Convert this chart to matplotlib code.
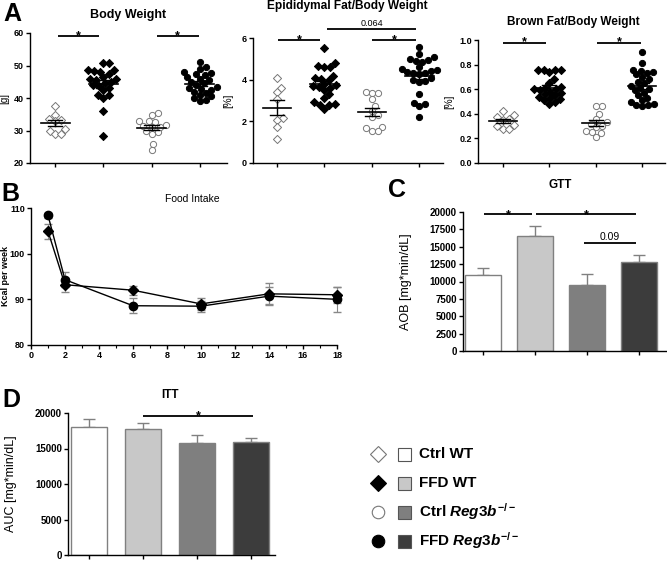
import numpy as np
import matplotlib.pyplot as plt
from matplotlib.patches import Rectangle

plt.rcParams["font.family"] = ["Liberation Sans", "DejaVu Sans"]
plt.rcParams["mathtext.fontset"] = "custom"
plt.rcParams["mathtext.rm"] = "Liberation Sans:bold"
plt.rcParams["mathtext.it"] = "Liberation Sans:bold:italic"

W, H = 667, 561

groups = ["Ctrl WT", "FFD WT", "Ctrl Reg3b-/-", "FFD Reg3b-/-"]

# panel A, individual animals
bw_ctrl_wt = [37.6, 34.7, 33.5, 33.3, 32.8, 30.4, 30.0, 29.0, 29.0]
bw_ffd_wt = [50.8, 50.8, 48.5, 48.5, 48.3, 47.5, 46.5, 46.0, 45.8, 45.5, 45.0,
             44.5, 44.0, 43.8, 43.0, 42.5, 41.0, 40.8, 40.0, 36.0, 28.2, 48.0]
bw_ctrl_ko = [35.3, 34.8, 33.0, 32.8, 32.5, 31.8, 31.5, 31.0, 30.0, 29.5, 29.0,
              25.8, 24.0, 31.2]
bw_ffd_ko = [51.2, 49.5, 49.0, 48.0, 47.8, 47.5, 47.0, 46.0, 45.5, 45.0, 44.5,
             44.0, 43.5, 43.0, 42.5, 42.0, 41.5, 41.0, 40.5, 40.0, 39.5, 39.0,
             46.5, 42.8]

epi_ctrl_wt = [4.1, 3.6, 3.4, 3.05, 2.15, 2.05, 1.75, 1.15]
epi_ffd_wt = [5.5, 4.8, 4.65, 4.6, 4.6, 4.2, 4.1, 4.05, 4.0, 3.8, 3.7, 3.65,
              3.6, 3.5, 3.3, 3.1, 2.95, 2.85, 2.8, 2.8, 2.6, 3.75]
epi_ctrl_ko = [3.4, 3.35, 3.35, 3.05, 2.75, 2.5, 2.3, 2.2, 1.75, 1.7, 1.55, 1.55]
epi_ffd_ko = [5.55, 5.25, 5.1, 5.0, 4.95, 4.9, 4.85, 4.6, 4.5, 4.45, 4.4, 4.35,
              4.3, 4.3, 4.25, 4.1, 4.0, 3.95, 3.9, 3.3, 2.9, 2.85, 2.75, 2.2]

bat_ctrl_wt = [0.42, 0.39, 0.37, 0.36, 0.35, 0.31, 0.30, 0.28, 0.28]
bat_ffd_wt = [0.76, 0.76, 0.76, 0.74, 0.76, 0.68, 0.65, 0.62, 0.61, 0.60, 0.60,
              0.59, 0.58, 0.57, 0.56, 0.55, 0.54, 0.53, 0.52, 0.51, 0.50, 0.48]
bat_ctrl_ko = [0.46, 0.46, 0.40, 0.36, 0.33, 0.32, 0.30, 0.29, 0.26, 0.25, 0.24, 0.21]
bat_ffd_ko = [0.90, 0.81, 0.76, 0.75, 0.74, 0.73, 0.72, 0.70, 0.68, 0.66, 0.65,
              0.63, 0.61, 0.60, 0.59, 0.57, 0.55, 0.53, 0.51, 0.50, 0.48, 0.47,
              0.47, 0.46]

# panel B, food intake
weeks = [1, 2, 6, 10, 14, 18]
fi_ffd_wt = [104.9, 93.2, 92.0, 89.0, 91.2, 91.0]
fi_ffd_wt_err = [1.6, 1.5, 1.0, 1.3, 2.3, 1.8]
fi_ffd_ko = [108.4, 94.3, 88.6, 88.5, 90.7, 90.0]
fi_ffd_ko_err = [0.5, 1.7, 1.7, 1.2, 1.9, 2.7]

# panels C / D, bars
gtt = [10900, 16600, 9550, 12800]
gtt_err = [1050, 1350, 1500, 1050]
itt = [18000, 17800, 15800, 15950]
itt_err = [1150, 750, 1150, 560]

bar_colors = ["white", "#c8c8c8", "#7f7f7f", "#3c3c3c"]


def px(left, top, right, bottom):
    return [left / W, 1 - bottom / H, (right - left) / W, (bottom - top) / H]


def style(ax, fs=6.5):
    for s in ["top", "right"]:
        ax.spines[s].set_visible(False)
    for s in ["left", "bottom"]:
        ax.spines[s].set_linewidth(1.0)
    ax.tick_params(labelsize=fs, width=1.0, length=3, pad=1.5)
    for lab in ax.get_yticklabels() + ax.get_xticklabels():
        lab.set_fontweight("bold")


def swarm(vals, pos, ax, diam):
    # simple deterministic beeswarm, done in pixel space
    bb = ax.get_position()
    x0, x1 = ax.get_xlim()
    y0, y1 = ax.get_ylim()
    sx = bb.width * W / (x1 - x0)
    sy = bb.height * H / (y1 - y0)
    order = np.argsort(vals)
    placed = []
    xs = np.zeros(len(vals))
    for i in order:
        yp = vals[i] * sy
        best = 0.0
        for k in range(200):
            cand = (k + 1) // 2 * 0.5 * (1 if k % 2 else -1)
            if all((cand - px_) ** 2 + (yp - py_) ** 2 >= diam ** 2 for px_, py_ in placed):
                best = cand
                break
        placed.append((best, yp))
        xs[i] = pos + best / sx
    return xs


def sig(ax, x0, x1, y, label, fs=9, dy=0.0):
    ax.plot([x0, x1], [y, y], color="black", lw=1.3, clip_on=False, solid_capstyle="butt")
    ax.text((x0 + x1) / 2, y + dy, label, ha="center", va="bottom",
            fontsize=fs, fontweight="bold" if label == "*" else "normal")


fig = plt.figure(figsize=(W / 100, H / 100), dpi=100)

panelA = [
    ("Body Weight", "[g]", (20, 60), [20, 30, 40, 50, 60], px(30, 33, 227, 163),
     [bw_ctrl_wt, bw_ffd_wt, bw_ctrl_ko, bw_ffd_ko], (0.48, 4.56), (128, 15), -0.105, 9),
    ("Epididymal Fat/Body Weight", "[%]", (0, 6), [0, 2, 4, 6], px(253, 38, 443, 163),
     [epi_ctrl_wt, epi_ffd_wt, epi_ctrl_ko, epi_ffd_ko], (0.5, 4.5), (347, 6), -0.105, 8.6),
    ("Brown Fat/Body Weight", "[%]", (0, 1), [0, 0.2, 0.4, 0.6, 0.8, 1.0], px(478, 40, 665, 163),
     [bat_ctrl_wt, bat_ffd_wt, bat_ctrl_ko, bat_ffd_ko], (0.46, 4.5), (573, 22), -0.125, 8.5),
]

markers = [("D", "white", "#777777"), ("D", "black", "black"),
           ("o", "white", "#777777"), ("o", "black", "black")]

axesA = []
for title, ylab, ylim, yt, rect, data, xlim, tpos, lx, tfs in panelA:
    ax = fig.add_axes(rect)
    ax.set_ylim(*ylim)
    ax.set_xlim(*xlim)
    ax.set_yticks(yt)
    if ylim[1] == 1:
        ax.set_yticklabels([f"{v:.1f}" for v in yt])
    ax.set_xticks([1, 2, 3, 4])
    ax.set_xticklabels([])
    style(ax)
    ax.set_ylabel(ylab, fontsize=7)
    ax.yaxis.set_label_coords(lx, 0.5)
    for i, vals in enumerate(data):
        vals = np.array(vals)
        mk, fc, ec = markers[i]
        xs = swarm(vals, i + 1, ax, 6.0)
        ax.scatter(xs, vals, marker=mk, s=17 if mk == "D" else 20, facecolor=fc,
                   edgecolor=ec, linewidth=0.7, zorder=3, clip_on=False)
        m = vals.mean()
        se = vals.std(ddof=1) / np.sqrt(len(vals))
        ax.plot([i + 0.7, i + 1.3], [m, m], color="black", lw=1.2, zorder=4)
        ax.plot([i + 1, i + 1], [m - se, m + se], color="black", lw=1.0, zorder=4)
        for e in (m - se, m + se):
            ax.plot([i + 0.85, i + 1.15], [e, e], color="black", lw=1.0, zorder=4)
    fig.text(tpos[0] / W, 1 - tpos[1] / H, title, ha="center", va="center",
             fontsize=tfs, fontweight="bold")
    axesA.append(ax)

sig(axesA[0], 1.07, 1.91, 59.2, "*", dy=-2.0)
sig(axesA[0], 3.1, 3.97, 59.2, "*", dy=-2.0)
sig(axesA[1], 1.02, 1.92, 5.92, "*", dy=-0.31)
sig(axesA[1], 3.01, 3.94, 5.92, "*", dy=-0.31)
sig(axesA[1], 2.05, 3.94, 6.45, "0.064", fs=6.5, dy=0.02)
sig(axesA[2], 1.0, 1.92, 0.978, "*", dy=-0.046)
sig(axesA[2], 3.03, 3.98, 0.978, "*", dy=-0.046)

# panel B
axB = fig.add_axes(px(31, 208, 337, 345))
axB.set_xlim(0, 18)
axB.set_ylim(80, 110)
axB.set_xticks(range(0, 19, 2))
axB.set_xticks(range(1, 19, 2), minor=True)
axB.set_yticks([80, 90, 100, 110])
style(axB)
axB.tick_params(which="minor", length=2, width=0.8)
axB.errorbar(weeks, fi_ffd_wt, yerr=fi_ffd_wt_err, color="black", lw=1.0,
             marker="D", ms=5.5, ecolor="#888888", elinewidth=0.8, capsize=3,
             clip_on=False, zorder=3)
axB.errorbar(weeks, fi_ffd_ko, yerr=fi_ffd_ko_err, color="black", lw=1.0,
             marker="o", ms=6, ecolor="#888888", elinewidth=0.8, capsize=3,
             clip_on=False, zorder=3)
axB.set_ylabel("Kcal per week", fontsize=6.5, fontweight="bold")
axB.yaxis.set_label_coords(-0.07, 0.5)
fig.text(192 / W, 1 - 199 / H, "Food Intake", ha="center", va="center", fontsize=7.5)


def bars(ax, vals, errs, width):
    x = np.arange(1, 5)
    ax.bar(x, vals, width=width, color=bar_colors, edgecolor="#808080", lw=1.0, zorder=2)
    ax.errorbar(x, vals, yerr=[np.zeros(4), errs], fmt="none", ecolor="#808080",
                elinewidth=1.0, capsize=4, capthick=1.0, zorder=1)
    ax.set_xticks(x)
    ax.set_xticklabels([])


# panel C
axC = fig.add_axes(px(463, 212, 666, 351))
axC.set_xlim(0.62, 4.52)
axC.set_ylim(0, 20000)
axC.set_yticks(range(0, 20001, 2500))
bars(axC, gtt, gtt_err, 0.69)
style(axC, fs=7)
axC.set_ylabel("AOB [mg*min/dL]", fontsize=9)
axC.yaxis.set_label_coords(-0.25, 0.5)
sig(axC, 1.02, 1.95, 19760, "*", dy=-1070)
sig(axC, 2.03, 3.94, 19760, "*", dy=-1070)
sig(axC, 2.94, 3.94, 15550, "0.09", fs=7.5, dy=200)
fig.text(560 / W, 1 - 185 / H, "GTT", ha="center", va="center", fontsize=8.5, fontweight="bold")

# panel D
axD = fig.add_axes(px(68, 413, 275, 555))
axD.set_xlim(0.61, 4.44)
axD.set_ylim(0, 20000)
axD.set_yticks(range(0, 20001, 5000))
bars(axD, itt, itt_err, 0.66)
style(axD, fs=7)
axD.set_ylabel("AUC [mg*min/dL]", fontsize=9)
axD.yaxis.set_label_coords(-0.245, 0.5)
sig(axD, 2.0, 4.03, 19535, "*", dy=-880)
fig.text(170 / W, 1 - 395 / H, "ITT", ha="center", va="center", fontsize=8.5, fontweight="bold")

# panel letters
for letter, x, y in [("A", 12, 14), ("B", 10, 194), ("C", 397, 190), ("D", 11, 400)]:
    fig.text(x / W, 1 - y / H, letter, ha="center", va="center", fontsize=18, fontweight="bold")

# legend
axL = fig.add_axes([0, 0, 1, 1])
axL.set_xlim(0, W)
axL.set_ylim(H, 0)
axL.axis("off")
labels = ["Ctrl WT", "FFD WT", r"Ctrl $Reg3b^{-/-}$", r"FFD $Reg3b^{-/-}$"]
for i, lab in enumerate(labels):
    y = 454 + 29 * i
    mk, fc, ec = markers[i]
    axL.plot([378], [y], marker=mk, ms=8 if mk == "D" else 9, mfc=fc,
             mec="#777777" if fc == "white" else "black", mew=0.8)
    axL.add_patch(Rectangle((398, y - 6.5), 13, 13, facecolor=bar_colors[i],
                            edgecolor="#555555", lw=0.8))
    axL.text(419, y, lab, ha="left", va="center", fontsize=11, fontweight="bold")

fig.savefig("out.png", dpi=100)
